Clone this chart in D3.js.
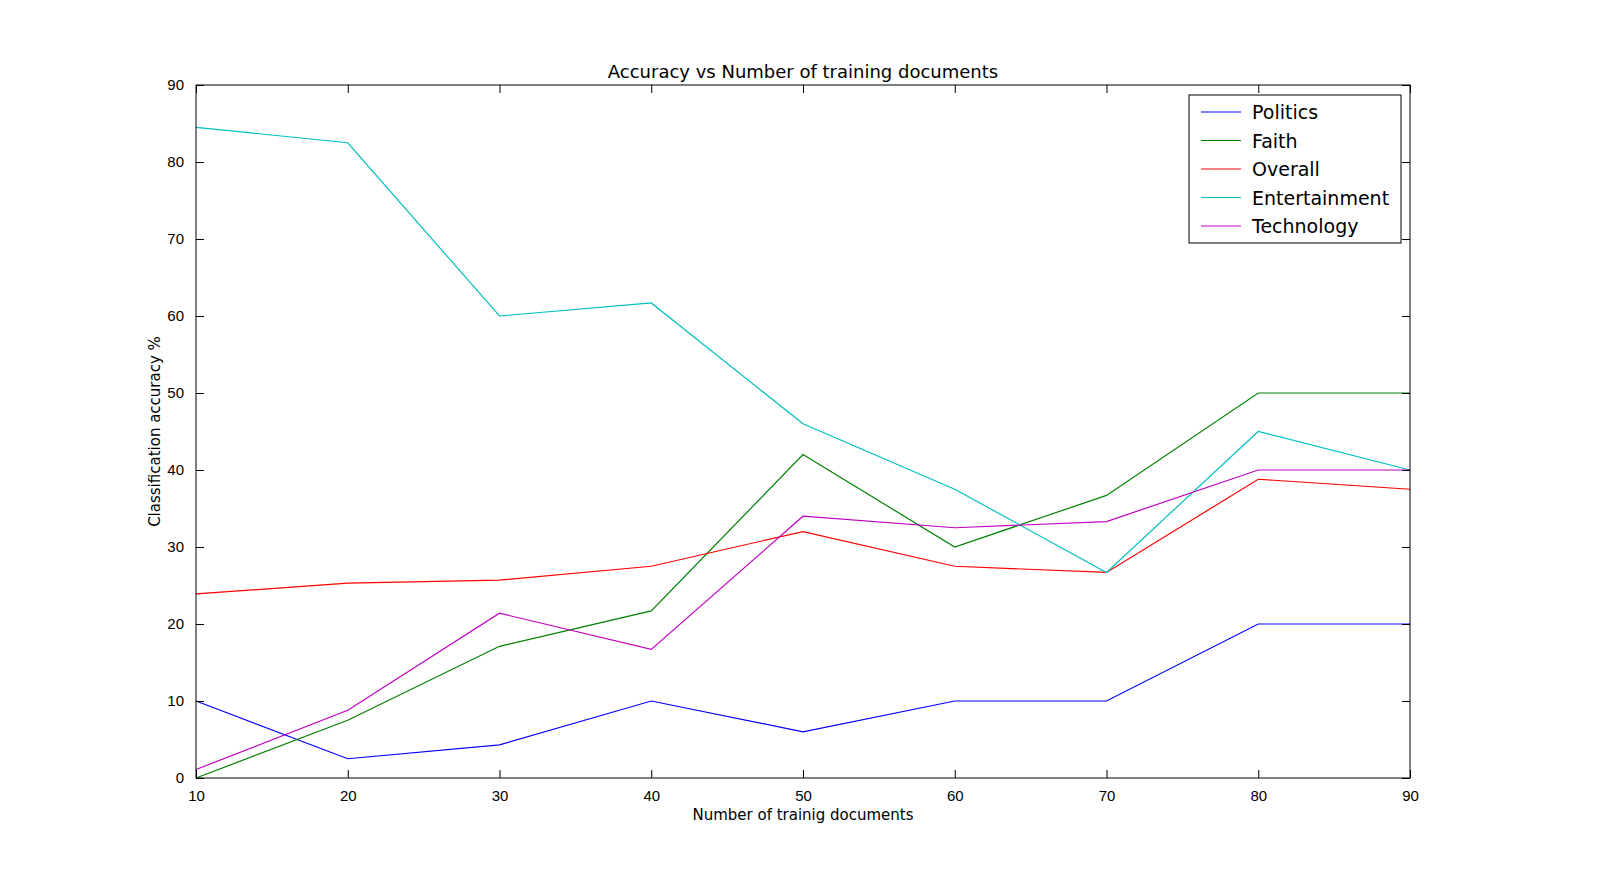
<!DOCTYPE html>
<html><head><meta charset="utf-8">
<script src="https://cdn.jsdelivr.net/npm/d3@7"></script>
<style>body{margin:0;background:#fff}svg{font-family:"DejaVu Sans",sans-serif}</style>
</head><body>
<svg id="chart" width="1600" height="883"></svg>
<script>
// data
var docs = [10, 20, 30, 40, 50, 60, 70, 80, 90];
var politics = [10, 2.5, 4.3, 10, 6, 10, 10, 20, 20];
var faith = [0, 7.5, 17.1, 21.7, 42, 30, 36.7, 50, 50];
var overall = [23.9, 25.3, 25.7, 27.5, 32, 27.5, 26.7, 38.8, 37.5];
var entertainment = [84.5, 82.5, 60, 61.7, 46, 37.5, 26.7, 45, 40];
var technology = [1.1, 8.8, 21.4, 16.7, 34, 32.5, 33.3, 40, 40];
var yTicks = [0, 10, 20, 30, 40, 50, 60, 70, 80, 90];

var series = [
  {name: "Politics", values: politics, color: "#0000ff"},
  {name: "Faith", values: faith, color: "#008000"},
  {name: "Overall", values: overall, color: "#ff0000"},
  {name: "Entertainment", values: entertainment, color: "#00bfbf"},
  {name: "Technology", values: technology, color: "#bf00bf"}
];

var svg = d3.select("#chart");
var L = 196, R = 1410, T = 85, B = 778;
var x = d3.scaleLinear().domain([10, 90]).range([L, R]);
var y = d3.scaleLinear().domain([0, 90]).range([B, T]);

// lines first, frame drawn on top
var line = d3.line().x(function (d, i) { return x(docs[i]); }).y(function (d) { return y(d); });
series.forEach(function (s) {
  svg.append("path").attr("d", line(s.values)).attr("fill", "none")
    .attr("stroke", s.color).attr("stroke-width", 1.2);
});

svg.append("rect").attr("x", L).attr("y", T).attr("width", R - L).attr("height", B - T)
  .attr("fill", "none").attr("stroke", "#000").attr("stroke-width", 1);

// inward ticks on all four sides
function styleAxis(g) {
  g.select(".domain").remove();
  g.selectAll("text").attr("font-size", 15).attr("fill", "#000");
}
svg.append("g").attr("transform", "translate(0," + B + ")")
  .call(d3.axisBottom(x).tickValues(docs).tickSize(-8).tickPadding(12)).call(styleAxis);
svg.append("g").attr("transform", "translate(0," + T + ")")
  .call(d3.axisTop(x).tickValues(docs).tickSize(-8).tickFormat("")).call(styleAxis);
svg.append("g").attr("transform", "translate(" + L + ",0)")
  .call(d3.axisLeft(y).tickValues(yTicks).tickSize(-8).tickPadding(12)).call(styleAxis);
svg.append("g").attr("transform", "translate(" + R + ",0)")
  .call(d3.axisRight(y).tickValues(yTicks).tickSize(-8).tickFormat("")).call(styleAxis);

svg.append("text").attr("x", (L + R) / 2).attr("y", T - 7).attr("text-anchor", "middle")
  .attr("font-size", 18).text("Accuracy vs Number of training documents");
svg.append("text").attr("x", (L + R) / 2).attr("y", 820).attr("text-anchor", "middle")
  .attr("font-size", 15).text("Number of trainig documents");
svg.append("text").attr("transform", "translate(160," + (T + B) / 2 + ") rotate(-90)")
  .attr("text-anchor", "middle").attr("font-size", 15).text("Classification accuracy %");

// legend
var lg = svg.append("g").attr("transform", "translate(1189,95)");
lg.append("rect").attr("width", 212).attr("height", 148).attr("fill", "#fff").attr("stroke", "#000");
series.forEach(function (s, i) {
  var yy = 17 + i * 28.5;
  lg.append("line").attr("x1", 12).attr("x2", 52).attr("y1", yy).attr("y2", yy)
    .attr("stroke", s.color).attr("stroke-width", 1.2);
  lg.append("text").attr("x", 63).attr("y", yy + 7).attr("font-size", 19).text(s.name);
});
</script>
</body></html>
